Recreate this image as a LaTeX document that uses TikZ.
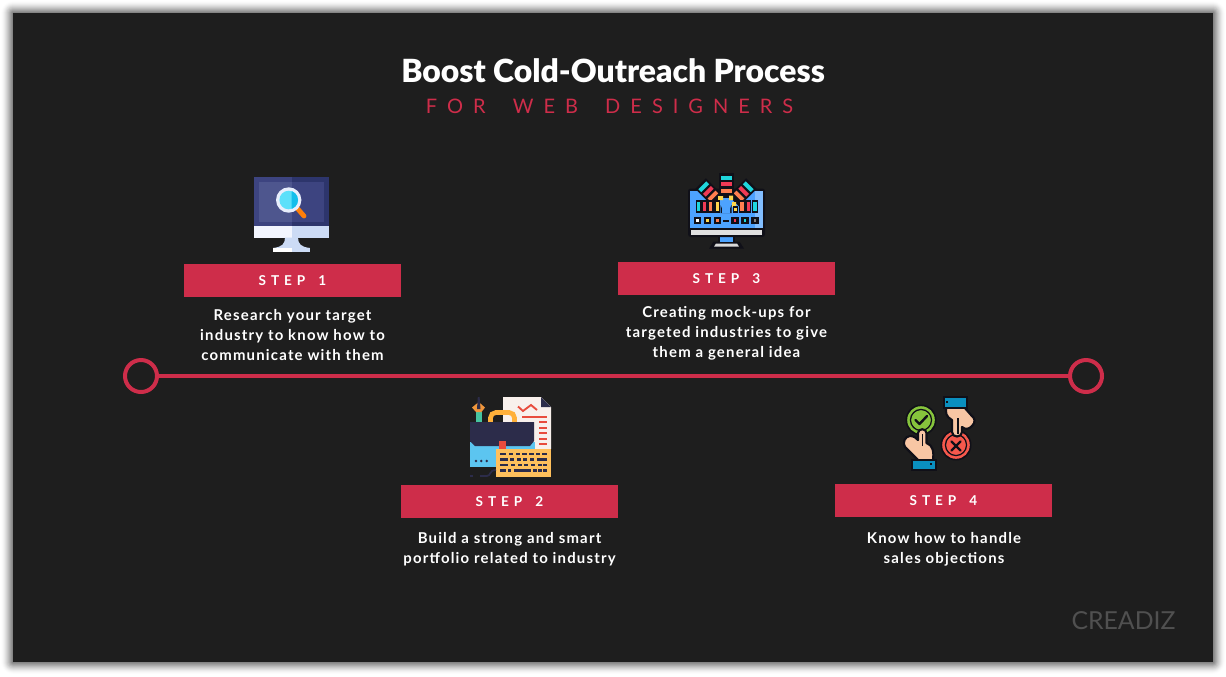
\documentclass[tikz,border=0pt]{standalone}
\usepackage{fontspec}
\setmainfont{Lato}
\newfontfamily\titlef{Lato Black}
\newfontfamily\stepf{Lato}[LetterSpace=36,WordSpace=1.6]
\newfontfamily\bodyf{Lato}[LetterSpace=8]
\newfontfamily\subf{Lato}[LetterSpace=50,WordSpace=1.8]
\newfontfamily\logof{Lato}
\definecolor{panel}{HTML}{1E1E1E}
\definecolor{crim}{HTML}{CE2D4A}
\definecolor{ink}{HTML}{101018}
\definecolor{navy}{HTML}{2C2C4A}
\definecolor{peach}{HTML}{F8C6A4}
\definecolor{cuff}{HTML}{0A8FBF}
\definecolor{tcy}{HTML}{1FD6DC}
\definecolor{tre}{HTML}{F03A55}
\definecolor{tor}{HTML}{FF7F50}
\definecolor{tye}{HTML}{FFD84D}
\definecolor{tbl}{HTML}{4DA3FF}
\definecolor{redln}{HTML}{E84C3D}
\tikzset{
  x=0.75pt,y=-0.75pt,
  stepbar/.style={fill=crim,draw=none,minimum width=162.75pt,minimum height=24.75pt,inner sep=0pt,text=white,font=\stepf\bfseries\fontsize{10.2}{12}\selectfont},
  bodytext/.style={text=white,align=center,font=\bodyf\bfseries\fontsize{11.2}{15}\selectfont,inner sep=0pt},
  ring/.style={circle,draw=crim,line width=3pt,minimum size=24pt,inner sep=0pt},
  link/.style={draw=crim,line width=3pt},
  ol/.style={draw=ink,line width=1.6pt,line join=round},
  bar/.style={draw=ink,line width=1pt},
}
\begin{document}
\begin{tikzpicture}
\useasboundingbox (0,0) rectangle (1226,676);
\fill[white] (0,0) rectangle (1226,676);
% soft shadow
\foreach \s in {12,11,...,1}{
  \pgfmathsetmacro{\op}{0.008*(13-\s)}
  \fill[black,opacity=\op,rounded corners=\s*0.75pt] (13-\s,13-\s) rectangle (1213+\s,662+\s);
}
\fill[panel] (13,13) rectangle (1213,662);
% titles
\node[text=white,inner sep=0pt,font=\titlef\fontsize{23.9}{28}\selectfont] (title) at (613,71) {Boost Cold-Outreach Process};
\node[text=crim,inner sep=0pt,font=\subf\fontsize{15}{18}\selectfont] (sub) at (609.5,106.5) {FOR WEB DESIGNERS};
% timeline
\node[ring] (c1) at (141,376) {};
\node[ring] (c2) at (1086,376) {};
\draw[link] (c1) -- (c2);
% step bars
\node[stepbar] (s1) at (292.5,280.5) {STEP 1};
\node[stepbar] (s3) at (726.5,278.5) {STEP 3};
\node[stepbar] (s2) at (509.5,501.5) {STEP 2};
\node[stepbar] (s4) at (943.5,500.5) {STEP 4};
% body texts
\node[bodytext] (t1) at (292.5,335) {Research your target\\industry to know how to\\communicate with them};
\node[bodytext] (t3) at (726.5,333) {Creating mock-ups for\\targeted industries to give\\them a general idea};
\node[bodytext] (t2) at (509.5,549) {Build a strong and smart\\portfolio related to industry};
\node[bodytext] (t4) at (944,549) {Know how to handle\\sales objections};
\node[text=white!22!panel,inner sep=0pt,font=\logof\fontsize{18.6}{22}\selectfont] (logo) at (1123.5,621) {CREADIZ};

% ---- icon 1: monitor with magnifier
\fill[fill={rgb,255:red,61;green,68;blue,128}] (254,177) rectangle (291.5,226);
\fill[fill={rgb,255:red,45;green,53;blue,108}] (291.5,177) rectangle (329,226);
\fill[fill={rgb,255:red,78;green,86;blue,142}] (259,182) rectangle (291.5,222);
\fill[fill={rgb,255:red,61;green,68;blue,128}] (291.5,182) rectangle (324,222);
\fill[fill={rgb,255:red,243;green,246;blue,255}] (254,226) rectangle (291.5,237.5);
\fill[fill={rgb,255:red,204;green,219;blue,245}] (291.5,226) rectangle (329,237.5);
\fill[fill={rgb,255:red,204;green,219;blue,245}] (285,237.5) .. controls (285,244) and (282,247) .. (273,248) -- (310,248) .. controls (301,247) and (298,244) .. (298,237.5) -- cycle;
\fill[white] (273,248) rectangle (291.5,252);
\fill[fill={rgb,255:red,204;green,219;blue,245}] (291.5,248) rectangle (310,252);
\draw[draw={rgb,255:red,255;green,127;blue,10},line width=3.6pt,line cap=round] (297,208) -- (304,216);
\fill[fill={rgb,255:red,232;green,238;blue,252}] (288.7,200) circle[radius=12.7];
\fill[fill={rgb,255:red,92;green,224;blue,250}] (288.7,200) circle[radius=9.3];
\begin{scope}
\clip (291.5,190) rectangle (300,210);
\fill[fill={rgb,255:red,20;green,190;blue,235}] (288.7,200) circle[radius=9.3];
\end{scope}

% ---- icon 3: monitor with colour swatches
\fill[ink] (709,248.5) -- (713.5,241.5) -- (739.5,241.5) -- (744,248.5) -- cycle;
\fill[white!85!black] (714,246.7) -- (716,243.5) -- (737,243.5) -- (739,246.7) -- cycle;
\fill[ink] (718,234) rectangle (735,242.5);
\fill[tbl] (720,237) rectangle (733,241.5);
\fill[ink,rounded corners=2pt] (688,188.5) rectangle (765,237);
\fill[tbl] (690,191) rectangle (763,228);
\fill[fill={rgb,255:red,130;green,190;blue,255}] (755,191) rectangle (763,228);
\fill[white!88!black] (691,229.5) rectangle (762,234.5);
% swatch fan
\foreach \a in {-45,45,0}{
\begin{scope}[rotate around={\a:(726,209)}]
\fill[ink] (718.5,173) rectangle (733.5,198);
\fill[tcy] (720.5,175.5) rectangle (731.5,179.5);
\fill[tre] (720.5,182) rectangle (731.5,186);
\fill[tor] (720.5,188.5) rectangle (731.5,192.5);
\end{scope}
}
% fan sparkles
\fill[tye] (718,196) rectangle (723,200) (729,195.5) rectangle (733,200) (732,202) rectangle (736,207);
% colour columns
\foreach \x/\c in {698.7/tcy,704.7/tre,710.7/tor,717.3/tye,742/tor,748.3/tre,755/tcy}{
  \fill[\c,bar] (\x-2.2,201) rectangle (\x+2.2,212);
}
\fill[tye,bar] (733.5,207) rectangle (737.7,212);
\fill[ink] (720.5,213) -- (720.5,205) arc[start angle=180,end angle=0,radius=5.5] -- (731.5,213) -- cycle;
\fill[tbl] (722,213) -- (722,205) arc[start angle=180,end angle=0,radius=4] -- (730,213) -- cycle;
\foreach \x/\c in {697.5/white,707.5/tye,717.5/tor,735/tre,745/tcy,755/white!50!black}{
  \fill[ink] (\x-3.7,216.5) rectangle (\x+3.7,224);
  \fill[\c] (\x-1.2,219) rectangle (\x+1.2,221.5);
}
\fill[ink] (723,220) rectangle (729,222);

% ---- icon 2: portfolio
\fill[fill={rgb,255:red,248;green,240;blue,236}] (503,397) -- (541,397) -- (551,407) -- (551,449) -- (503,449) -- cycle;
\fill[navy] (541,397) -- (551,407) -- (541,407) -- cycle;
\draw[draw=redln,line width=1.4pt,line join=miter] (518,406.5) -- (523,411) -- (531,405) -- (537,410);
\fill[redln] (522,416.2) rectangle (547,418);
\foreach \y in {422,427.5,433,438.5,444}{
  \fill[redln] (538.5,\y-1) rectangle (547,\y+1);
}
\draw[draw={rgb,255:red,255;green,176;blue,58},line width=3.5pt,rounded corners=4pt] (490.5,423) -- (490.5,412.5) -- (514.5,412.5) -- (514.5,423);
\fill[fill={rgb,255:red,70;green,196;blue,160}] (475.7,412) rectangle (481.7,422);
\fill[fill={rgb,255:red,240;green,150;blue,60}] (478.7,402) -- (485,407.5) -- (481.5,412) -- (476,412) -- (472,407.5) -- cycle;
\fill[navy] (477.8,397) -- (479.6,397) -- (480.5,409) -- (477,409) -- cycle;
\fill[fill={rgb,255:red,92;green,197;blue,240}] (470,442) rectangle (535,467);
\fill[navy] (470,422) -- (534,422) -- (534,441) -- (530,446) -- (475,446) -- (470,441) -- cycle;
\fill[redln] (499,441) rectangle (506,449);
\fill[navy] (476,461) circle[radius=1.4] (481.3,461) circle[radius=1.4] (486.7,461) circle[radius=1.4];
\fill[fill={rgb,255:red,255;green,192;blue,92}] (496,449) rectangle (551,477);
\fill[navy] (470,474.5) rectangle (473,477);
\draw[navy,line width=1.3pt] (480,476) -- (487,476) .. controls (491,476) and (489,470) .. (496,470);
\foreach \a/\b in {500/506,508.5/512.5,515.5/520,522/526.5,529/533.5,535.5/540,542/546.5}{\fill[navy] (\a,452.7) rectangle (\b,455.3);}
\foreach \a/\b in {500/507.7,510/514,516.7/520.7,523.3/527.3,530/534,536.7/546.7}{\fill[navy] (\a,458.4) rectangle (\b,461);}
\foreach \a/\b in {500/508.3,511/515,517.7/521.7,524.3/528.3,531/535,537.7/541.7,543.3/546.7}{\fill[navy] (\a,463.7) rectangle (\b,466.3);}
\foreach \a/\b in {500/505.7,508.3/511,514/530.7,533.3/536.7,538.3/541.7,543.3/546.7}{\fill[navy] (\a,469.4) rectangle (\b,472);}

% ---- icon 4: approve / reject hands
\fill[ink] (921,420) circle[radius=15.5];
\fill[fill={rgb,255:red,134;green,196;blue,60}] (921,420) circle[radius=13.8];
\draw[ink,line width=1pt] (921,420) circle[radius=10.5];
\fill[fill={rgb,255:red,134;green,196;blue,60}] (921,420) circle[radius=9.5];
\draw[ink,line width=1.8pt,line cap=round,line join=round] (915.5,420) -- (919.5,424) -- (927,416);
\fill[ink] (956,445) circle[radius=15.5];
\fill[fill={rgb,255:red,246;green,88;blue,76}] (956,445) circle[radius=13.8];
\draw[ink,line width=1pt] (956,445) circle[radius=10.5];
\fill[fill={rgb,255:red,246;green,88;blue,76}] (956,445) circle[radius=9.5];
\draw[ink,line width=1.8pt,line cap=round] (951.5,441.5) -- (960.5,450.5) (960.5,441.5) -- (951.5,450.5);
% lower hand
\draw[ol,fill=peach] (919,461) -- (905,447) .. controls (902,443) and (905,436) .. (910,436) .. controls (914,436) and (916,438) .. (918,440) -- (918,433) .. controls (918,428) and (926.5,428) .. (926.5,433) -- (926.5,443) .. controls (933,445) and (934,452) .. (933,460) -- cycle;
\draw[ink,line width=1pt] (922.3,446) -- (922.3,434);
% upper hand
\draw[ol,fill=peach] (946.5,407) .. controls (945,412) and (946,417) .. (952,420) -- (952,432) .. controls (952,438) and (962,438) .. (962,432) -- (962,427) .. controls (966,430) and (969,429) .. (972,426) .. controls (976,422) and (975,418) .. (971,415) -- (964,407) -- cycle;
\draw[ink,line width=1pt] (958,418) -- (958,434);
\fill[ink] (943,396) rectangle (968,409);
\fill[cuff] (945,398) rectangle (966,407);
\fill[ink] (945.5,401) rectangle (947.5,403);
\fill[ink] (911,459) rectangle (936.5,471);
\fill[cuff] (913,461) rectangle (934.5,469);
\fill[ink] (930,462.5) rectangle (932,464.5);
\end{tikzpicture}
\end{document}
